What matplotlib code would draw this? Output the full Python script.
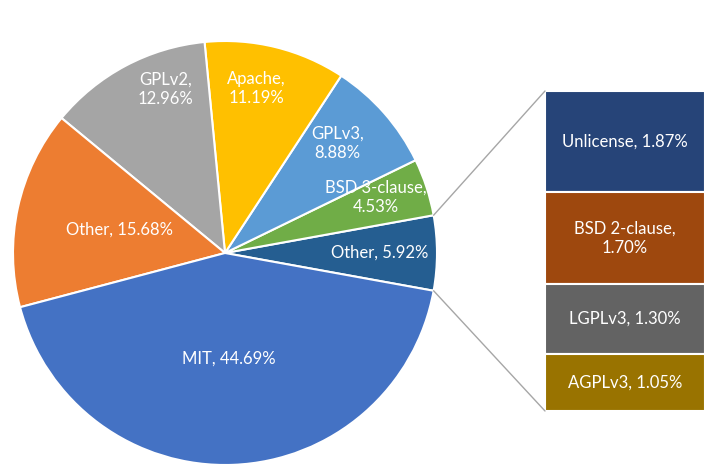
import numpy as np
import matplotlib
matplotlib.use("Agg")
import matplotlib.pyplot as plt
from matplotlib.patches import ConnectionPatch

plt.rcParams['font.family'] = ['Lato', 'DejaVu Sans']

# pie slices (counter-clockwise, starting with the exploded "Other")
pie_labels = ["Other", "BSD 3-clause", "GPLv3", "Apache", "GPLv2", "Other", "MIT"]
pie_values = [5.92, 4.53, 8.88, 11.19, 12.96, 15.68, 44.69]
pie_colors = ["#255E91", "#70AD47", "#5B9BD5", "#FFC000", "#A5A5A5", "#ED7D31", "#4472C4"]
# label placement: fraction of radius, angle nudge (deg), line break
lab_r = [0.73, 0.76, 0.74, 0.79, 0.82, 0.51, 0.50]
lab_da = [0, 2, 3, 3, -8, 0, 0]
lab_wrap = [False, True, True, True, True, False, False]

# secondary bar (top to bottom)
bar_labels = ["Unlicense", "BSD 2-clause", "LGPLv3", "AGPLv3"]
bar_values = [1.87, 1.70, 1.30, 1.05]
bar_colors = ["#264478", "#9E480E", "#636363", "#997300"]
bar_wrap = [False, True, False, False]

fig = plt.figure(figsize=(7.13, 4.72), dpi=100)
ax = fig.add_axes([0, 0, 1, 1])
start = -pie_values[0] / sum(pie_values) * 360 / 2
wedges, _ = ax.pie(pie_values, colors=pie_colors, startangle=start, counterclock=True,
                   center=(225, 219), radius=212,
                   wedgeprops=dict(edgecolor="white", linewidth=1.5))
ax.set_xlim(0, 713)
ax.set_ylim(0, 472)
ax.set_aspect("equal")
ax.axis("off")

for w, name, val, r, da, wrap in zip(wedges, pie_labels, pie_values, lab_r, lab_da, lab_wrap):
    ang = np.deg2rad((w.theta1 + w.theta2) / 2 + da)
    x = w.center[0] + r * w.r * np.cos(ang)
    y = w.center[1] + r * w.r * np.sin(ang)
    sep = ",\n" if wrap else ", "
    ax.text(x, y, f"{name}{sep}{val:.2f}%", ha="center", va="center",
            color="white", fontsize=12, linespacing=1.25)

# bar of pie
bax = fig.add_axes([545 / 713, 61 / 472, 160 / 713, 320 / 472])
bottom = sum(bar_values)
for name, val, col, wrap in zip(bar_labels, bar_values, bar_colors, bar_wrap):
    bottom -= val
    bax.bar(0, val, bottom=bottom, width=1, color=col, edgecolor="white", linewidth=1.5)
    sep = ",\n" if wrap else ", "
    bax.text(0, bottom + val / 2, f"{name}{sep}{val:.2f}%", ha="center", va="center",
             color="white", fontsize=12, linespacing=1.25)
bax.set_xlim(-0.5, 0.5)
bax.set_ylim(0, sum(bar_values))
bax.axis("off")

# connector lines
w0 = wedges[0]
for theta, yb in [(w0.theta2, 1), (w0.theta1, 0)]:
    t = np.deg2rad(theta)
    pa = (w0.center[0] + w0.r * np.cos(t), w0.center[1] + w0.r * np.sin(t))
    con = ConnectionPatch(xyA=pa, coordsA=ax.transData, xyB=(0, yb), coordsB=bax.transAxes,
                          color="#A6A6A6", linewidth=1)
    fig.add_artist(con)

fig.savefig("out.png", dpi=100, facecolor="white")
